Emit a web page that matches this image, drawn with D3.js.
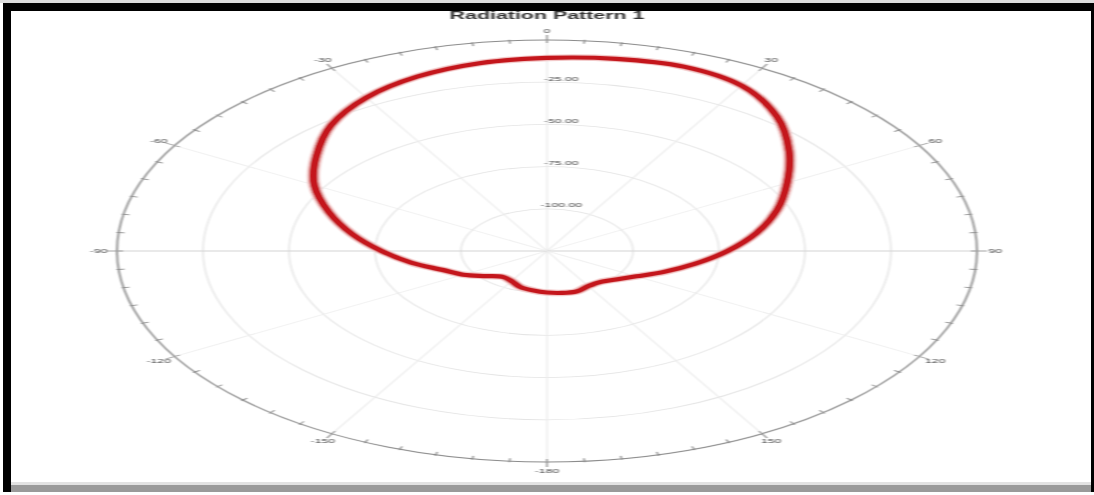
<!DOCTYPE html>
<html><head><meta charset="utf-8">
<script src="https://cdn.jsdelivr.net/npm/d3@7"></script>
<style>body{margin:0;background:#fff}svg{display:block}</style>
</head><body>
<svg id="c" width="1094" height="495"></svg>
<script>
const title = "Radiation Pattern 1";
const thetaDeg = [0,10,20,30,40,50,60,70,80,90,100,110,120,130,140,150,160,170,180,
                  -170,-160,-150,-140,-130,-120,-110,-100,-90,-80,-70,-60,-50,-40,-30,-20,-10];
const gainDb = [-10.6,-9.4,-8.8,-11.9,-21.0,-33.1,-44.4,-53.8,-63.1,-72.5,-81.3,-88.8,-95.0,-98.8,-101.0,-101.0,-99.6,-99.8,-100.4,
                -101.3,-102.3,-104.4,-105.0,-101.9,-96.9,-92.5,-85.0,-76.9,-67.5,-57.5,-46.9,-37.5,-27.5,-20.0,-15.0,-12.0];
const angleTicks = [0,30,60,90,120,150,180,-150,-120,-90,-60,-30];
const angleLabels = ["0","30","60","90","120","150","-180","-150","-120","-90","-60","-30"];
const ringValues = [-100,-75,-50,-25,0];
const ringLabels = ["-100.00","-75.00","-50.00","-25.00"];

const svg = d3.select("#c");
const W = 1094, H = 495;
const cx = 547, cy = 251, R = 211, sx = 430 / 211;
const rad = d => d * Math.PI / 180;

const r = d3.scaleLinear().domain([-125, 0]).range([0, R]);

const defs = svg.append("defs");
defs.append("filter").attr("id","soft").attr("x","-5%").attr("y","-5%").attr("width","110%").attr("height","110%")
  .append("feGaussianBlur").attr("stdDeviation", 0.5);

// frame
svg.append("rect").attr("x",0).attr("y",0).attr("width",W).attr("height",3).attr("fill","#dcdcdc");
svg.append("rect").attr("x",3).attr("y",3).attr("width",W-3).attr("height",8).attr("fill","#000");
svg.append("rect").attr("x",3).attr("y",3).attr("width",8).attr("height",489).attr("fill","#000");
svg.append("rect").attr("x",1091).attr("y",3).attr("width",3).attr("height",489).attr("fill","#000");
svg.append("rect").attr("x",11).attr("y",482).attr("width",1080).attr("height",3).attr("fill","#e2e2e2");
svg.append("rect").attr("x",11).attr("y",485).attr("width",1080).attr("height",7).attr("fill","#9a9a9a");

const g = svg.append("g").attr("transform", `translate(${cx},${cy}) scale(${sx},1)`)
  .attr("filter","url(#soft)");

// title
svg.append("text").attr("x", cx).attr("y", 16).attr("text-anchor","middle")
  .attr("dominant-baseline","middle").attr("filter","url(#soft)")
  .attr("transform", `translate(${cx},0) scale(${sx},1) translate(${-cx},0)`)
  .attr("font-family","Liberation Sans, Arial, sans-serif").attr("font-weight","bold")
  .attr("font-size", 10.5).attr("fill","#333").text(title);

// rings
g.selectAll("circle.ring").data(ringValues).join("circle")
  .attr("r", d => r(d)).attr("fill","none")
  .attr("stroke", d => d === 0 ? "#8c8c8c" : "#e4e4e4")
  .attr("stroke-width", d => d === 0 ? 1 : 0.8);

// spokes
g.selectAll("line.spoke").data(angleTicks).join("line")
  .attr("x1",0).attr("y1",0)
  .attr("x2", d => r(0) * Math.sin(rad(d)))
  .attr("y2", d => -r(0) * Math.cos(rad(d)))
  .attr("stroke", d => (d === 90 || d === -90) ? "#d4d4d4" : "#ececec").attr("stroke-width", 0.8);

// minor ticks
const minor = d3.range(-180, 180, 5);
g.selectAll("line.tick").data(minor).join("line")
  .attr("x1", d => (R - 3) * Math.sin(rad(d))).attr("y1", d => -(R - 3) * Math.cos(rad(d)))
  .attr("x2", d => (R + (d % 30 === 0 ? 5 : 1)) * Math.sin(rad(d)))
  .attr("y2", d => -(R + (d % 30 === 0 ? 5 : 1)) * Math.cos(rad(d)))
  .attr("stroke","#8c8c8c").attr("stroke-width",0.8);

// angle labels
g.selectAll("text.ang").data(angleTicks).join("text")
  .attr("x", (d) => (R + 9) * Math.sin(rad(d)))
  .attr("y", (d) => -(R + 9) * Math.cos(rad(d)))
  .attr("text-anchor","middle").attr("dominant-baseline","middle")
  .attr("font-family","Liberation Sans, Arial, sans-serif").attr("font-size",6)
  .attr("fill","#444").text((d,i) => angleLabels[i]);

// ring labels
g.selectAll("text.rl").data(ringLabels).join("text")
  .attr("x", 7).attr("y", (d,i) => -r(ringValues[i]) - 3)
  .attr("text-anchor","middle").attr("dominant-baseline","middle")
  .attr("font-family","Liberation Sans, Arial, sans-serif").attr("font-size",6)
  .attr("fill","#444").text(d => d);

// pattern
const pts = thetaDeg.map((t,i) => ({t, v: gainDb[i]}));
const line = d3.lineRadial().angle(d => rad(d.t)).radius(d => r(d.v)).curve(d3.curveCatmullRomClosed);
g.append("path").attr("d", line(pts)).attr("fill","none")
  .attr("stroke","#f2c9c9").attr("stroke-width",6.5);
g.append("path").attr("d", line(pts)).attr("fill","none")
  .attr("stroke","#c4161c").attr("stroke-width",4.2);
</script>
</body></html>
